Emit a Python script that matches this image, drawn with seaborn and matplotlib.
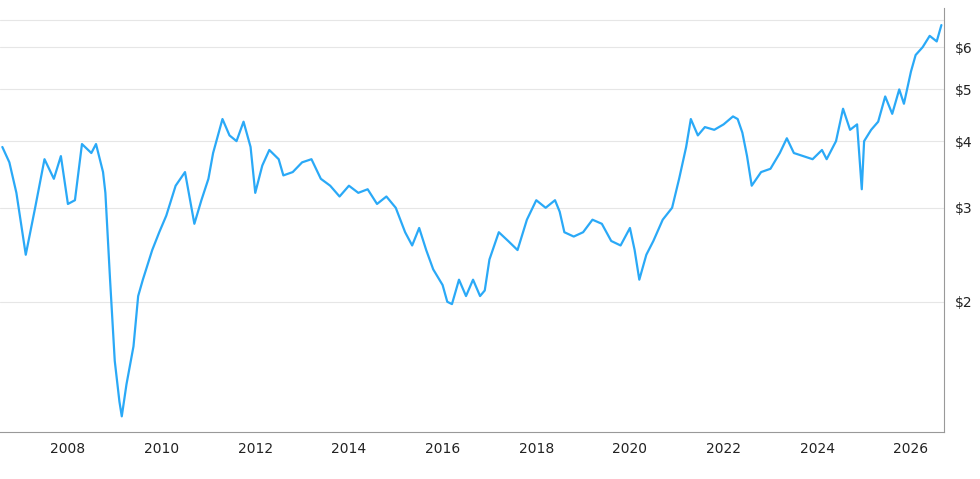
import matplotlib
matplotlib.use("Agg")
import matplotlib.pyplot as plt
import seaborn as sns
import pandas as pd
import numpy as np
from matplotlib.ticker import FixedLocator, NullLocator

years = [2006.6,2006.75,2006.9,2007.1,2007.3,2007.5,2007.7,2007.85,2008.0,2008.15,2008.3,2008.5,2008.6,2008.75,2008.8,2008.9,
2009.0,2009.1,2009.15,2009.25,2009.4,2009.5,2009.6,2009.8,2009.95,2010.1,2010.3,2010.5,2010.7,2010.85,2011.0,2011.1,2011.3,
2011.45,2011.6,2011.75,2011.9,2012.0,2012.15,2012.3,2012.5,2012.6,2012.8,2013.0,2013.2,2013.4,2013.6,2013.8,2014.0,2014.2,
2014.4,2014.6,2014.8,2015.0,2015.2,2015.35,2015.5,2015.65,2015.8,2016.0,2016.1,2016.2,2016.35,2016.5,2016.65,2016.8,2016.9,
2017.0,2017.2,2017.4,2017.6,2017.8,2018.0,2018.2,2018.4,2018.5,2018.6,2018.8,2019.0,2019.2,2019.4,2019.6,2019.8,2020.0,
2020.1,2020.2,2020.35,2020.5,2020.7,2020.9,2021.05,2021.2,2021.3,2021.45,2021.6,2021.8,2022.0,2022.2,2022.3,2022.4,2022.5,
2022.6,2022.8,2023.0,2023.2,2023.35,2023.5,2023.7,2023.9,2024.1,2024.2,2024.4,2024.55,2024.7,2024.85,2024.95,2025.0,2025.15,
2025.3,2025.45,2025.6,2025.75,2025.85,2026.0,2026.1,2026.25,2026.4,2026.55,2026.65]
prices = [3.9,3.65,3.2,2.45,3.0,3.7,3.4,3.75,3.05,3.1,3.95,3.8,3.95,3.5,3.2,2.2,
1.55,1.3,1.22,1.4,1.65,2.05,2.2,2.5,2.7,2.9,3.3,3.5,2.8,3.1,3.4,3.8,4.4,
4.1,4.0,4.35,3.9,3.2,3.6,3.85,3.7,3.45,3.5,3.65,3.7,3.4,3.3,3.15,3.3,3.2,
3.25,3.05,3.15,3.0,2.7,2.55,2.75,2.5,2.3,2.15,2.0,1.98,2.2,2.05,2.2,2.05,2.1,
2.4,2.7,2.6,2.5,2.85,3.1,3.0,3.1,2.95,2.7,2.65,2.7,2.85,2.8,2.6,2.55,2.75,
2.5,2.2,2.45,2.6,2.85,3.0,3.4,3.9,4.4,4.1,4.25,4.2,4.3,4.45,4.4,4.15,3.75,
3.3,3.5,3.55,3.8,4.05,3.8,3.75,3.7,3.85,3.7,4.0,4.6,4.2,4.3,3.25,4.0,4.2,
4.35,4.85,4.5,5.0,4.7,5.4,5.8,6.0,6.3,6.15,6.6]
ytick_vals = [2,3,4,5,6]
ytick_labels = ["$2","$3","$4","$5","$6"]
xtick_years = list(range(2008, 2027, 2))

df = pd.DataFrame({"year": years, "price": prices})
sns.set_style("white")
fig = plt.figure(figsize=(9.8,4.79), dpi=100)
ax = fig.add_axes([0.0, 0.098, 0.963, 0.885])
sns.lineplot(data=df, x="year", y="price", ax=ax, color="#2aa9f7", linewidth=1.6)
ax.set_yscale("log")
ax.set_ylim(1.14, 7.1)
ax.set_xlim(2006.55, 2026.7)
ax.yaxis.set_major_locator(FixedLocator(ytick_vals))
ax.yaxis.set_minor_locator(NullLocator())
ax.set_yticklabels(ytick_labels)
ax.yaxis.tick_right()
ax.set_xticks(xtick_years)
ax.set_xticklabels([str(y) for y in xtick_years])
ax.grid(axis="y", color="#e6e6e6", linewidth=0.8)
ax.axhline(6.75, color="#e6e6e6", linewidth=0.8, zorder=0)
for s in ["top","left"]:
    ax.spines[s].set_visible(False)
for s in ["right","bottom"]:
    ax.spines[s].set_color("#999999")
ax.tick_params(axis="both", labelsize=10, colors="#222222", length=4, color="#999999")
ax.tick_params(axis="y", length=0, pad=8)
ax.set_xlabel(""); ax.set_ylabel("")
fig.savefig("out.png", dpi=100)
